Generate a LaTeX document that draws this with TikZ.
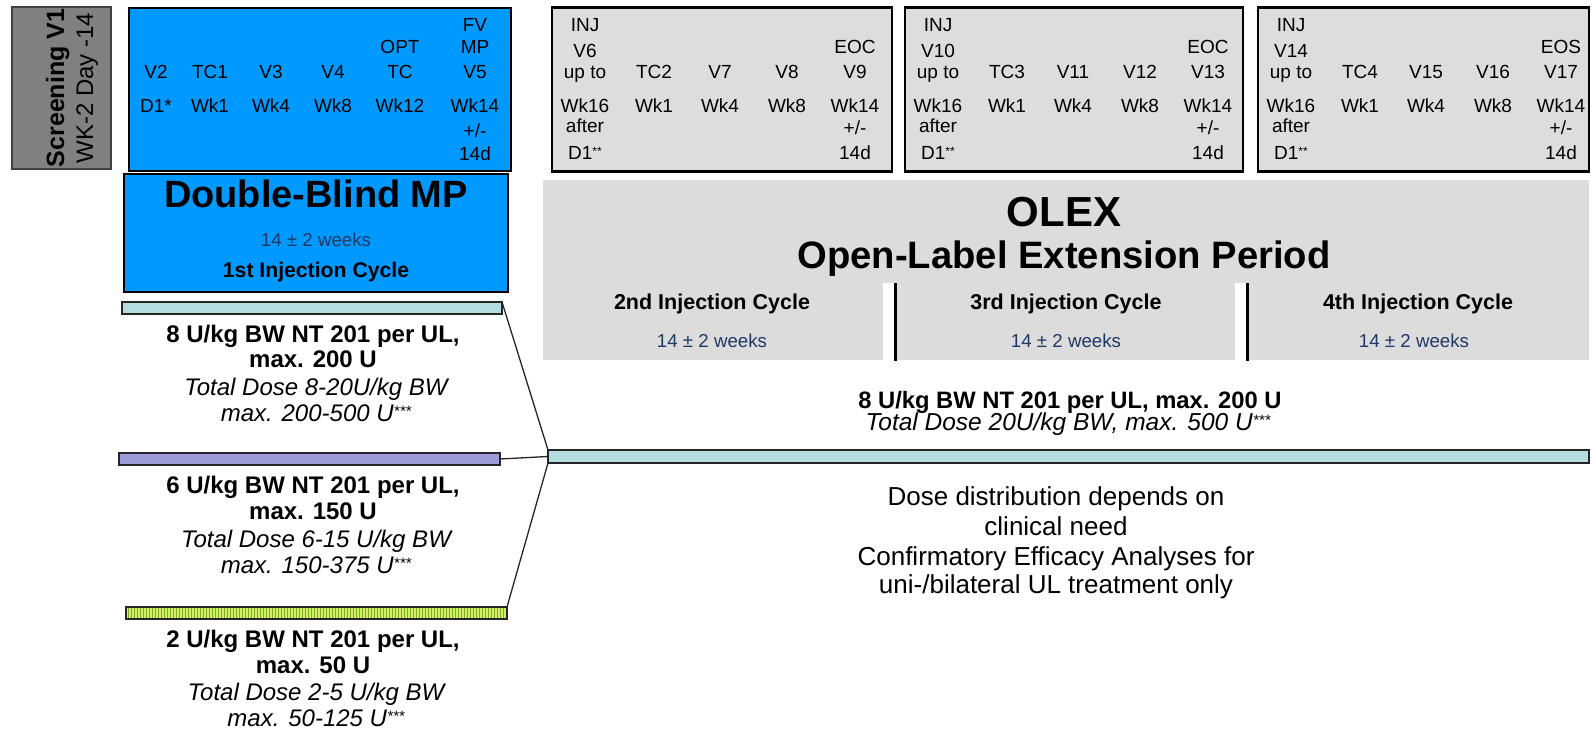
\documentclass[tikz,border=0pt]{standalone}
\usepackage{fontspec}
\setmainfont{Liberation Sans}
\definecolor{bluefill}{RGB}{0,153,255}
\definecolor{gboxfill}{RGB}{221,221,221}
\definecolor{olexfill}{RGB}{220,220,220}
\definecolor{scrfill}{RGB}{128,128,128}
\definecolor{navytext}{RGB}{31,56,100}
\definecolor{barcyan}{RGB}{180,221,224}
\definecolor{barpurple}{RGB}{155,155,215}
\definecolor{bargreen}{RGB}{210,238,110}
\definecolor{stripegreen}{RGB}{130,175,30}
\newcommand\fs[1]{\fontsize{#1}{#1}\selectfont}
\newcommand\stars[3]{\raisebox{#1pt}{\fontsize{#2}{#2}\selectfont #3}}
\newcommand\visitcells[8]{%
  \node[cell] (#1a) at (#2+33,32) {INJ};
  \node[cell] (#1b) at (#2+33,58) {#3};
  \node[cell] (#1c) at (#2+33,79) {up to};
  \node[cell] (#1d) at (#2+33,113) {Wk16};
  \node[cell] (#1e) at (#2+33,133) {after};
  \node[cell] (#1f) at (#2+33,160) {D1\stars{4}{12}{**}};
  \node[cell] (#1g) at (#2+102,79) {#4};
  \node[cell] (#1h) at (#2+102,113) {Wk1};
  \node[cell] (#1i) at (#2+168,79) {#5};
  \node[cell] (#1j) at (#2+168,113) {Wk4};
  \node[cell] (#1k) at (#2+235,79) {#6};
  \node[cell] (#1l) at (#2+235,113) {Wk8};
  \node[cell] (#1m) at (#2+303,54) {#7};
  \node[cell] (#1n) at (#2+303,79) {#8};
  \node[cell] (#1o) at (#2+303,113) {Wk14};
  \node[cell] (#1p) at (#2+303,135) {+/-};
  \node[cell] (#1q) at (#2+303,160) {14d};
}
\begin{document}
\begin{tikzpicture}[x=1pt,y=-1pt,
  every node/.style={inner sep=0pt, outer sep=0pt},
  cell/.style={anchor=base, font=\fs{19}},
  txt/.style={anchor=base},
  scrbox/.style={draw=black!75, line width=2pt, fill=scrfill},
  bluebox/.style={draw=black, line width=2.5pt, fill=bluefill},
  gbox/.style={draw=black, line width=2.5pt, fill=gboxfill},
  bar/.style={draw=black!85, line width=1.5pt},
  conn/.style={line width=1.3pt, draw=black!85},
  divider/.style={line width=2.5pt, draw=black}
]
\useasboundingbox (0,0) rectangle (1593,730);
\fill[white] (0,0) rectangle (1593,730);

% Screening
\node[scrbox, minimum width=99pt, minimum height=162pt] (scr) at (61.5,88) {};
\node[rotate=90, anchor=base, font=\fs{25}\bfseries] (scrA) at (64,88) {Screening V1};
\node[rotate=90, anchor=base, font=\fs{24}] (scrB) at (93,88) {WK-2 Day -14};

% Double-blind visits
\node[bluebox, minimum width=382pt, minimum height=163pt] (dbv) at (320,89.5) {};
\foreach \x/\y/\t [count=\i] in {156/79/V2, 156/113/D1*, 210/79/TC1, 210/113/Wk1,
   271/79/V3, 271/113/Wk4, 333/79/V4, 333/113/Wk8, 400/54/OPT, 400/79/TC,
   400/113/Wk12, 475/32/FV, 475/54/MP, 475/79/V5, 475/113/Wk14, 475/138/{+/-}, 475/161/14d}
  \node[cell] (dbv\i) at (\x,\y) {\t};

% Double-blind period
\node[bluebox, minimum width=384pt, minimum height=118pt] (dbp) at (316,233) {};
\node[txt, font=\fs{38}\bfseries] (dbpT) at (316,208) {Double-Blind MP};
\node[txt, font=\fs{18.7}, text=navytext] (dbpW) at (316,247) {14 ± 2 weeks};
\node[txt, font=\fs{21.2}\bfseries] (dbpC) at (316,277) {1st Injection Cycle};

% OLEX visit boxes
\node[gbox, minimum width=340pt, minimum height=164pt] (g1) at (722,89.5) {};
\node[gbox, minimum width=338pt, minimum height=164pt] (g2) at (1074,89.5) {};
\node[gbox, minimum width=331pt, minimum height=164pt] (g3) at (1423.5,89.5) {};
\visitcells{g1}{552}{V6}{TC2}{V7}{V8}{EOC}{V9}
\visitcells{g2}{905}{V10}{TC3}{V11}{V12}{EOC}{V13}
\visitcells{g3}{1258}{V14}{TC4}{V15}{V16}{EOS}{V17}

% OLEX period
\node[fill=olexfill, minimum width=1046pt, minimum height=180pt] (olex) at (1066,270) {};
\fill[white] (883,283) rectangle (894,361);
\fill[white] (1235,283) rectangle (1246,361);
\draw[divider] (895.5,283) -- (895.5,361);
\draw[divider] (1247.5,283) -- (1247.5,361);
\node[txt, font=\fs{42}\bfseries] (olexT) at (1064,226) {OLEX};
\node[txt, font=\fs{38.2}\bfseries] (olexS) at (1064,268) {Open-Label Extension Period};
\node[txt, font=\fs{21.5}\bfseries] (c2) at (712,309) {2nd Injection Cycle};
\node[txt, font=\fs{18.7}, text=navytext] (c2w) at (712,347) {14 ± 2 weeks};
\node[txt, font=\fs{21.5}\bfseries] (c3) at (1066,309) {3rd Injection Cycle};
\node[txt, font=\fs{18.7}, text=navytext] (c3w) at (1066,347) {14 ± 2 weeks};
\node[txt, font=\fs{21.5}\bfseries] (c4) at (1418,309) {4th Injection Cycle};
\node[txt, font=\fs{18.7}, text=navytext] (c4w) at (1414,347) {14 ± 2 weeks};

% Dose bars
\node[bar, fill=barcyan, minimum width=380pt, minimum height=12pt] (bar1) at (312,308) {};
\node[bar, fill=barpurple, minimum width=381pt, minimum height=12pt] (bar2) at (309.5,459) {};
\node[bar, fill=bargreen, minimum width=381pt, minimum height=12pt] (bar3) at (316.5,613) {};
\foreach \k in {0,...,125}
  \draw[stripegreen, line width=1pt] (128.5+3*\k,608) -- ++(0,10);
\draw[bar] (bar3.north west) rectangle (bar3.south east);
\node[bar, fill=barcyan, minimum width=1041pt, minimum height=13pt] (barR) at (1068.5,456.5) {};

\draw[conn] (bar1.north east) -- (barR.north west);
\draw[conn] (bar2.east) -- (barR.west);
\draw[conn] (bar3.north east) -- (barR.south west);

% Dose texts left
\node[txt, font=\fs{24}\bfseries] (d1a) at (313,342) {8 U/kg BW NT 201 per UL,};
\node[txt, font=\fs{24}\bfseries] (d1b) at (313,367) {max. 200 U};
\node[txt, font=\fs{24}\itshape] (d1c) at (316,395) {Total Dose 8-20U/kg BW};
\node[txt, font=\fs{24}\itshape] (d1d) at (316,421) {max. 200-500 U\stars{5}{15}{***}};

\node[txt, font=\fs{24}\bfseries] (d2a) at (313,493) {6 U/kg BW NT 201 per UL,};
\node[txt, font=\fs{24}\bfseries] (d2b) at (313,519) {max. 150 U};
\node[txt, font=\fs{24}\itshape] (d2c) at (316,547) {Total Dose 6-15 U/kg BW};
\node[txt, font=\fs{24}\itshape] (d2d) at (316,573) {max. 150-375 U\stars{5}{15}{***}};

\node[txt, font=\fs{24}\bfseries] (d3a) at (313,647) {2 U/kg BW NT 201 per UL,};
\node[txt, font=\fs{24}\bfseries] (d3b) at (313,673) {max. 50 U};
\node[txt, font=\fs{24}\itshape] (d3c) at (316,700) {Total Dose 2-5 U/kg BW};
\node[txt, font=\fs{24}\itshape] (d3d) at (316,726) {max. 50-125 U\stars{5}{15}{***}};

% Dose texts right
\node[txt, font=\fs{23.75}\bfseries] (dRa) at (1070,408) {8 U/kg BW NT 201 per UL, max. 200 U};
\node[txt, font=\fs{24.5}\itshape] (dRb) at (1068,430) {Total Dose 20U/kg BW, max. 500 U\stars{5}{15}{***}};

\node[txt, font=\fs{26}] (n1) at (1056,505) {Dose distribution depends on};
\node[txt, font=\fs{26}] (n2) at (1056,535) {clinical need};
\node[txt, font=\fs{26}] (n3) at (1056,565) {Confirmatory Efficacy Analyses for};
\node[txt, font=\fs{26}] (n4) at (1056,593) {uni-/bilateral UL treatment only};
\end{tikzpicture}
\end{document}
